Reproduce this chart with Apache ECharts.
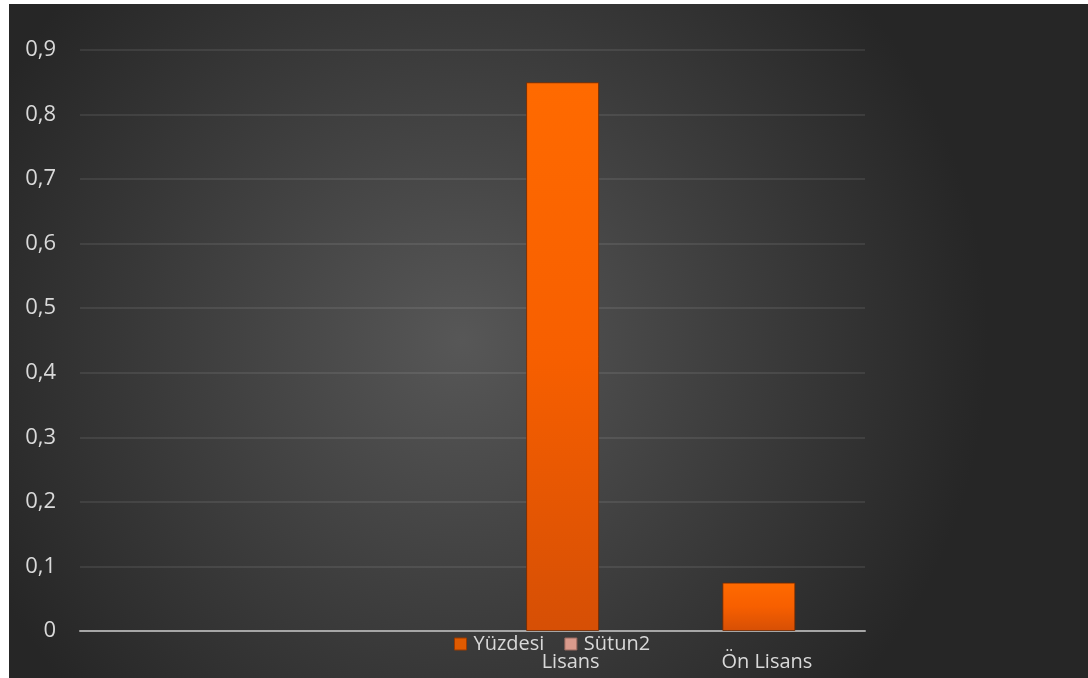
<!DOCTYPE html>
<html>
<head>
<meta charset="utf-8">
<script src="https://cdn.jsdelivr.net/npm/echarts@6/dist/echarts.min.js"></script>
<style>
  html, body { margin: 0; padding: 0; background: #ffffff; }
  #chart { position: absolute; left: 9px; top: 4px; width: 1079px; height: 674px; }
</style>
</head>
<body>
<div id="chart"></div>
<script>
const categories = ['', ' ', 'Lisans', 'Ön Lisans'];
const yuzdesi = [null, null, 0.85, 0.075];
const sutun2 = [null, null, null, null];
const yTicks = { min: 0, max: 0.9, interval: 0.1 };

const chart = echarts.init(document.getElementById('chart'), null, { renderer: 'canvas' });
const font = '"Open Sans", "Noto Sans", sans-serif';

chart.setOption({
  backgroundColor: {
    type: 'radial', x: 0.42, y: 0.5, r: 0.78,
    colorStops: [
      { offset: 0, color: '#575757' },
      { offset: 1, color: '#262626' }
    ]
  },
  animation: false,
  textStyle: { fontFamily: font },
  grid: { left: 71, right: 223, top: 46, bottom: 47, containLabel: false },
  legend: {
    left: 440, top: 625,
    itemWidth: 12, itemHeight: 12, itemGap: 20,
    icon: 'rect',
    textStyle: { color: '#d9d9d9', fontSize: 20, fontFamily: font, padding: [0, 0, 0, 2] },
    data: [
      { name: 'Yüzdesi', itemStyle: { color: '#e05a00', borderColor: '#9a3a00', borderWidth: 1 } },
      { name: 'Sütun2', itemStyle: { color: '#d99a8c', borderColor: '#9a6a60', borderWidth: 1 } }
    ]
  },
  xAxis: {
    type: 'category',
    data: categories,
    axisLine: { show: true, lineStyle: { color: '#a6a6a6', width: 2 } },
    axisTick: { show: false },
    axisLabel: { color: '#d9d9d9', fontSize: 20, fontFamily: font, margin: 21, interval: 0 },
    splitLine: { show: false }
  },
  yAxis: {
    type: 'value',
    min: yTicks.min, max: yTicks.max, interval: yTicks.interval,
    axisLine: { show: false },
    axisTick: { show: false },
    axisLabel: {
      color: '#d9d9d9', fontSize: 22, fontFamily: font, margin: 24,
      formatter: v => v === 0 ? '0' : v.toFixed(1).replace('.', ',')
    },
    splitLine: { show: true, lineStyle: { color: 'rgba(255,255,255,0.11)', width: 1.5 } }
  },
  series: [
    {
      name: 'Yüzdesi', type: 'bar', data: yuzdesi,
      barWidth: 73, barGap: '-78%',
      itemStyle: {
        color: {
          type: 'linear', x: 0, y: 0, x2: 0, y2: 1,
          colorStops: [
            { offset: 0, color: '#ff6a00' },
            { offset: 0.5, color: '#f75f00' },
            { offset: 1, color: '#d64f05' }
          ]
        },
        borderColor: 'rgba(110,40,0,0.8)', borderWidth: 1
      }
    },
    {
      name: 'Sütun2', type: 'bar', data: sutun2,
      barWidth: 73,
      itemStyle: { color: '#d99a8c' }
    }
  ]
});
</script>
</body>
</html>
